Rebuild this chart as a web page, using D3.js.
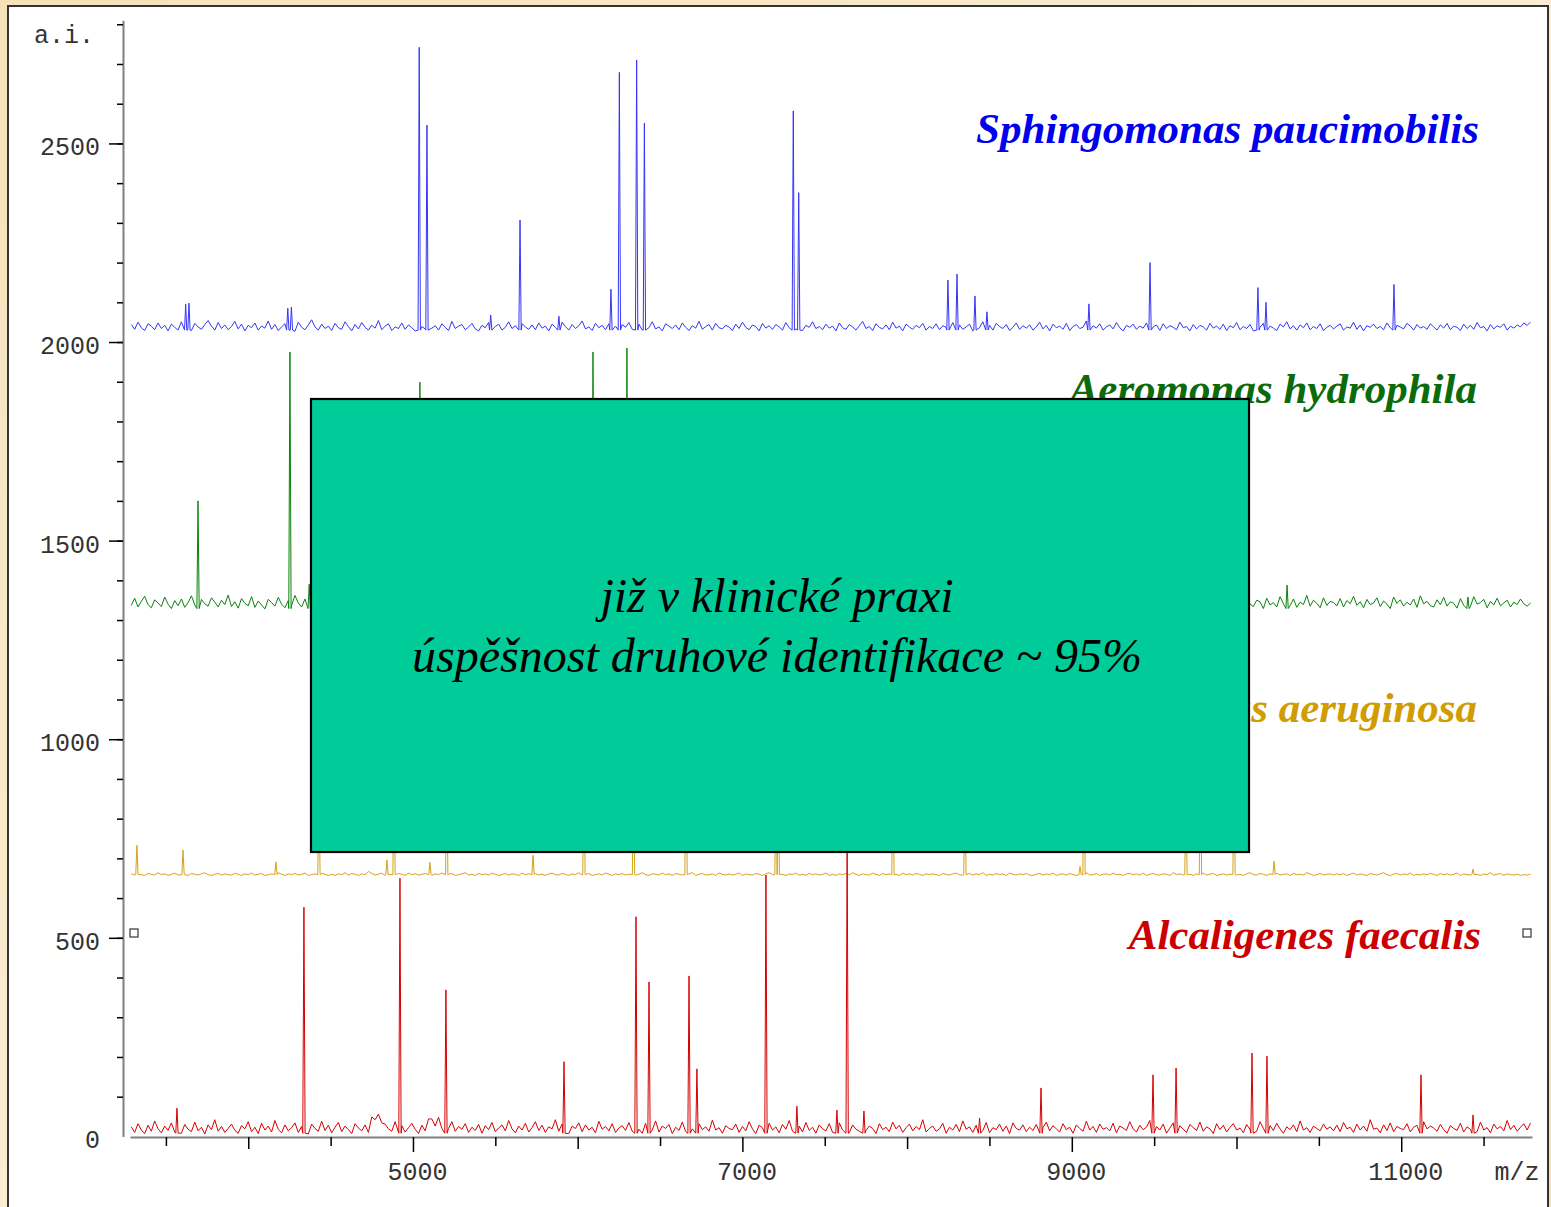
<!DOCTYPE html>
<html><head><meta charset="utf-8">
<script src="https://cdn.jsdelivr.net/npm/d3@7"></script>
<style>
html,body{margin:0;padding:0;background:#F6E6C3;}
svg{display:block;}
</style></head><body>
<svg id="chart" width="1551" height="1207"></svg>
<script>
// ---------------- DATA ----------------
const species = ["Sphingomonas paucimobilis","Aeromonas hydrophila","Pseudomonas aeruginosa","Alcaligenes faecalis"];
const baselines = [2026, 1325, 655, 4];
const mzStart = 3290, mzEnd = 11785;
const yTickLabels = [0, 500, 1000, 1500, 2000, 2500];
const xTickLabels = [5000, 7000, 9000, 11000];

// baseline noise (intensity above baseline), sampled evenly along m/z
const blueNoise = [
18,6,24,10,3,20,14,5,22,8,16,2,19,11,4,25,9,15,3,21,12,6,18,28,14,4,23,8,17,5,
13,26,7,19,2,16,10,22,4,14,9,27,6,18,3,12,20,8,15,1,24,11,5,17,30,12,4,19,8,14,
3,21,10,6,25,13,2,18,7,23,11,4,16,9,28,5,14,20,3,12,8,22,6,17,10,2,19,13,7,24,
9,15,4,20,11,3,26,8,14,18,5,12,21,7,2,16,10,23,6,13,19,4,11,25,8,15,3,20,12,6,
17,5,22,9,14,2,19,11,6,24,13,4,18,8,15,27,7,12,3,21,10,16,5,20,9,14,2,18,11,23,
6,13,19,4,16,10,25,7,12,2,20,14,8,17,5,22,11,3,15,9,26,6,13,18,4,21,10,7,16,12,
3,19,8,24,11,5,17,13,2,21,9,15,6,18,12,4,23,10,14,7,20,3,16,11,25,8,13,5,19,9,
14,2,22,10,6,18,12,4,15,26,8,13,3,20,11,7,17,5,24,9,14,2,19,12,6,16,10,21,4,13,
8,20,5,15,11,3,23,9,17,6,12,19,2,14,10,25,7,16,4,21,13,8,18,3,11,22,6,15,9,17,
4,12,24,7,16,2,19,10,14,6,21,3,13,18,8,11,27,5,15,9,20,4,12,17,7,23,10,2,16,11,
19,6,14,9,22,4,12,17,3,20,8,15,11,5,24,10,13,2,18,7,16,12,4,21,9,14,6,19,3,15,
10,23,5,13,8,18,2,16,11,21,6,14,9,3,19,12,25,7,15,4,17,10,22,5,13,8,20,3,11,16,
7,14,20,4,12,9,24,6,17,2,15,11,19,8,13,5,22,10,3,16,12,7,21,14,4,18,9,13,6,20,
12,4,17,9,21,5,14,11,3,19,8,16,6,23,10,13,2,18,7,15,11,20,4,14,9,17,12,22,16,24];
const greenNoise = [
12,30,8,22,35,14,6,26,18,9,33,15,4,24,11,28,7,19,36,13,5,27,16,10,31,20,8,25,14,38,
9,21,5,29,17,11,34,7,23,13,3,27,19,10,32,15,6,24,12,37,18,8,28,14,4,22,33,11,26,16,
7,31,20,9,25,13,40,17,6,23,11,29,15,3,27,19,10,34,14,8,26,18,5,30,12,21,9,35,16,24,
11,19,6,28,14,32,8,22,17,4,26,13,36,10,20,7,29,15,24,9,33,12,18,5,27,16,38,11,21,14,
25,8,30,13,19,4,27,16,35,10,22,7,31,14,18,3,26,12,34,9,20,15,6,28,17,11,32,8,23,13,
5,29,16,22,10,37,12,19,7,25,14,30,9,21,4,27,17,33,11,24,6,18,28,13,36,10,20,15,8,26,
14,32,9,20,27,6,23,15,11,34,18,7,29,12,25,3,21,16,38,10,26,13,19,5,31,14,22,8,28,17,
10,24,35,12,18,6,30,14,21,8,27,16,4,33,11,23,19,7,28,13,36,9,20,15,25,6,32,12,17,29,
8,22,14,31,5,26,17,11,37,13,20,9,28,15,24,6,33,12,18,10,29,16,4,27,21,13,35,8,19,25,
16,7,30,12,23,18,5,34,14,27,9,21,11,32,17,6,25,13,39,10,22,15,28,8,19,30,12,24,7,26,
13,35,10,19,28,8,24,15,6,31,17,22,12,36,9,26,14,20,5,29,18,11,33,7,23,16,27,10,21,14,
6,27,18,12,33,15,9,25,21,4,30,13,19,8,34,16,23,11,28,7,20,14,37,10,25,17,6,31,12,22,
19,11,29,8,24,16,35,12,21,6,27,14,18,31,9,23,15,4,33,17,26,10,20,13,28,7,36,16,22,11,
8,26,14,32,10,21,17,5,29,12,24,9,34,15,19,27,6,22,13,30,11,18,25,8,20,14,28,16,10,18];
const goldNoise = [
6,3,8,4,2,7,5,3,9,4,6,2,5,8,3,6,4,2,7,5,3,6,9,4,2,5,7,3,6,4,
3,7,5,2,6,4,8,3,5,7,2,4,6,3,9,5,2,6,4,7,3,5,8,2,4,6,3,7,5,2,
5,2,6,4,9,3,7,5,2,6,4,12,7,3,5,8,2,6,4,3,7,5,2,8,4,6,3,5,7,4,
2,6,4,8,3,5,7,2,4,6,9,3,5,2,7,4,6,3,8,5,2,4,7,3,6,5,2,8,4,6,
4,7,3,5,2,6,8,4,3,7,5,2,6,4,9,3,5,7,2,4,6,3,8,5,2,6,4,7,3,5,
7,3,5,9,4,2,6,5,3,8,4,6,2,7,5,3,4,6,9,2,5,7,3,4,6,2,8,5,3,6,
3,5,8,2,6,4,3,7,5,2,6,9,4,3,7,5,2,6,4,8,3,5,2,7,4,6,3,5,8,2,
5,2,6,4,7,3,9,5,2,6,4,3,8,5,2,7,4,6,3,5,2,8,4,6,3,7,5,2,6,4,
6,4,2,7,5,3,6,8,4,2,5,7,3,6,4,9,2,5,3,7,4,6,2,8,5,3,6,4,7,3,
2,5,7,3,6,4,8,2,5,6,3,7,4,2,6,5,9,3,4,7,2,5,6,3,8,4,5,2,6,7,
4,6,3,8,2,5,7,4,3,6,5,2,9,4,6,3,7,5,2,6,4,8,3,5,7,2,4,6,3,5,
7,3,5,2,6,9,4,3,7,5,2,6,4,8,3,5,6,2,7,4,5,3,9,6,2,4,7,3,5,6,
3,6,4,7,2,5,8,3,6,4,2,7,5,3,6,9,4,2,5,7,3,6,4,8,2,5,3,6,4,7,
5,2,7,4,6,3,5,8,2,6,4,3,7,5,2,6,4,9,3,5,7,2,6,4,3,5,2,4,3,5];
const redNoise = [
20,6,28,12,3,24,9,35,15,5,22,11,30,7,18,4,26,14,8,32,10,19,2,25,13,38,9,21,6,16,
27,11,4,23,15,33,8,19,3,29,12,22,7,36,14,5,25,10,18,30,6,21,13,2,27,16,9,34,11,24,
5,19,31,8,22,13,3,28,17,10,25,6,45,38,52,30,27,15,9,33,11,23,7,18,29,14,3,24,10,40,
40,22,44,16,24,16,33,9,21,14,28,6,19,11,26,4,23,13,31,8,17,25,10,36,15,5,22,12,29,7,
18,33,11,24,6,20,15,38,9,27,13,3,22,16,30,8,25,12,19,5,34,14,21,10,28,6,17,23,11,31,
9,25,14,4,29,18,12,35,7,22,16,26,3,19,11,32,8,24,15,6,28,13,20,9,37,12,18,4,23,16,
13,27,6,21,10,33,15,3,24,18,8,29,12,20,5,26,14,36,9,17,22,7,31,11,19,4,25,15,10,28,
6,20,30,12,17,5,25,14,9,34,11,22,16,3,28,13,19,8,32,15,24,6,18,27,10,21,13,38,7,16,
22,9,15,29,4,19,12,26,8,35,14,20,6,24,17,11,31,5,18,13,27,9,22,3,30,16,12,25,8,19,
11,26,5,18,32,10,23,15,7,28,13,19,4,25,16,9,34,12,21,6,27,14,18,10,29,5,22,17,11,33,
15,7,24,13,19,36,8,21,12,27,4,17,30,10,23,14,6,26,18,11,32,9,20,15,3,28,13,24,7,19,
28,12,17,5,26,14,21,9,33,16,7,23,11,29,15,4,20,13,25,8,35,12,18,6,22,16,10,27,14,20,
10,24,8,31,15,19,6,27,12,22,9,38,14,17,5,25,11,30,8,21,16,13,28,7,19,24,10,33,15,22,
17,9,26,13,4,23,16,11,29,7,20,14,25,8,32,12,18,5,27,15,21,10,36,13,24,9,19,28,12,30];

// peaks: [m/z, intensity]
const bluePeaks = [[3620,2095],[3640,2098],[4240,2085],[4262,2088],[5038,2742],[5085,2546],[5472,2068],
 [5650,2307],[5886,2065],[6202,2133],[6253,2679],[6358,2710],[6405,2551],[7309,2582],[7342,2376],
 [8248,2156],[8303,2171],[8412,2116],[8485,2076],[9104,2096],[9475,2200],[10130,2137],[10179,2100],[10956,2145]];
const greenPeaks = [[3695,1600],[4253,1975],[4370,1390],[5042,1899],[5400,1500],[6093,1975],[6299,1985],
 [7000,1550],[7600,1480],[8900,1450],[10307,1388],[11405,1358]];
const goldPeaks = [[3324,733],[3604,721],[4168,691],[4429,900],[4842,696],[4885,950],[5103,690],[5205,1000],
 [5729,708],[6038,1050],[6339,980],[6658,1100],[7204,900],[7218,880],[7914,1000],[8351,950],[9050,680],
 [9074,1020],[9693,900],[9781,1000],[9985,950],[10228,693],[11436,673]];
const redPeaks = [[3567,71],[4338,577],[4921,650],[5200,369],[5917,188],[6354,553],[6433,389],[6676,404],
 [6724,170],[7143,658],[7331,76],[7574,66],[7636,760],[7738,64],[8440,46],[8813,122],[9493,155],[9633,172],
 [10094,210],[10185,202],[11120,155],[11436,54]];

const noises = [blueNoise, greenNoise, goldNoise, redNoise];
const peaks = [bluePeaks, greenPeaks, goldPeaks, redPeaks];
const lineColors = ["#3535F5","#0A820A","#D6A218","#D40000"];
const labelColors = ["#0000EE","#0B6B0B","#D09C00","#CC0000"];

// ---------------- CHART ----------------
const W = 1551, H = 1207;
const svg = d3.select("#chart");
const defs = svg.append("defs");
const g1 = defs.append("linearGradient").attr("id","bg").attr("x1","0").attr("y1","0").attr("x2","1").attr("y2","1");
g1.append("stop").attr("offset","0").attr("stop-color","#F5E2BA");
g1.append("stop").attr("offset","0.5").attr("stop-color","#FAEDD2");
g1.append("stop").attr("offset","1").attr("stop-color","#F4E0B6");
svg.append("rect").attr("width",W).attr("height",H).attr("fill","url(#bg)");
svg.append("rect").attr("x",8).attr("y",6).attr("width",1540).attr("height",1230)
  .attr("fill","#fff").attr("stroke","#333").attr("stroke-width",2);

const x = d3.scaleLinear().domain([3282, 11794]).range([130, 1532]);
const y = d3.scaleLinear().domain([0, 2810]).range([1136.4, 20.3]);

function buildSeries(base, noise, pk){
  const step = (mzEnd - mzStart) / (noise.length - 1);
  const pts = [];
  noise.forEach((n,i) => {
    const mz = mzStart + i*step;
    if (!pk.some(p => Math.abs(p[0]-mz) < 10)) pts.push([mz, base + n]);
  });
  pk.forEach(p => {
    pts.push([p[0]-7, base + 4]);
    pts.push([p[0], p[1]]);
    pts.push([p[0]+7, base + 4]);
  });
  pts.sort((a,b) => a[0]-b[0]);
  return pts;
}

const line = d3.line().x(d => x(d[0])).y(d => y(d[1]));
species.forEach((s,i) => {
  svg.append("path").datum(buildSeries(baselines[i], noises[i], peaks[i]))
    .attr("d", line).attr("fill","none").attr("stroke", lineColors[i])
    .attr("stroke-width",1).attr("stroke-linejoin","round");
});

// axes
const monoFont = "'Liberation Mono','Courier New',monospace";
function styleAxis(g){
  g.select(".domain").attr("stroke","#808080").attr("stroke-width",2);
  g.selectAll(".tick line").attr("stroke","#000").attr("stroke-width",1.5);
  g.selectAll("text").attr("font-family",monoFont).attr("font-size",25).attr("fill","#333");
}
const yMinor = svg.append("g").attr("transform","translate(123,0)")
  .call(d3.axisLeft(y).tickValues(d3.range(100,2801,100)).tickSize(6).tickSizeOuter(0).tickFormat(""));
styleAxis(yMinor);
const yMajor = svg.append("g").attr("transform","translate(123,0)")
  .call(d3.axisLeft(y).tickValues(yTickLabels).tickSize(14).tickSizeOuter(0).tickPadding(9).tickFormat(d3.format("d")));
styleAxis(yMajor);
yMajor.select(".domain").remove();
yMajor.selectAll(".tick").filter(d => d === 0).select("line").remove();
yMajor.selectAll("text").attr("dy","0.46em");

const xMinor = svg.append("g").attr("transform","translate(0,1137)")
  .call(d3.axisBottom(x).tickValues(d3.range(3500,11600,500).filter(v => v % 1000 !== 0)).tickSize(9).tickSizeOuter(0).tickFormat(""));
styleAxis(xMinor);
const xMid = svg.append("g").attr("transform","translate(0,1137)")
  .call(d3.axisBottom(x).tickValues([4000,6000,8000,10000]).tickSize(12).tickSizeOuter(0).tickFormat(""));
styleAxis(xMid);
xMid.select(".domain").remove();
const xMajor = svg.append("g").attr("transform","translate(0,1137)")
  .call(d3.axisBottom(x).tickValues(xTickLabels).tickSize(15).tickSizeOuter(0).tickPadding(10).tickFormat(d3.format("d")));
styleAxis(xMajor);
xMajor.select(".domain").remove();
xMajor.selectAll("text").attr("dx",4);

svg.append("text").attr("x",1517).attr("y",1179.5).attr("text-anchor","middle")
  .attr("font-family",monoFont).attr("font-size",25).attr("fill","#333").text("m/z");
svg.append("text").attr("x",34).attr("y",43)
  .attr("font-family",monoFont).attr("font-size",25).attr("fill","#333").text("a.i.");

// species labels
const labelPos = [[1479,143],[1477,403],[1477,722],[1481,949]];
species.forEach((s,i) => {
  svg.append("text").attr("x",labelPos[i][0]).attr("y",labelPos[i][1]).attr("text-anchor","end")
    .attr("font-family","'Liberation Serif','Times New Roman',serif").attr("font-style","italic")
    .attr("font-weight","bold").attr("font-size",43).attr("fill",labelColors[i]).text(s);
});

// small markers
svg.append("rect").attr("x",130).attr("y",929).attr("width",8).attr("height",8)
  .attr("fill","#fff").attr("stroke","#444").attr("stroke-width",1.3);
svg.append("rect").attr("x",1523).attr("y",929).attr("width",8).attr("height",8)
  .attr("fill","#fff").attr("stroke","#444").attr("stroke-width",1.3);

// overlay box
svg.append("rect").attr("x",311).attr("y",399).attr("width",938).attr("height",453)
  .attr("fill","#00CC99").attr("stroke","#000").attr("stroke-width",2.2);
const boxLines = ["již v klinické praxi","úspěšnost druhové identifikace ~ 95%"];
boxLines.forEach((t,i) => {
  svg.append("text").attr("x",777).attr("y",612 + i*60).attr("text-anchor","middle")
    .attr("font-family","'Liberation Serif','Times New Roman',serif").attr("font-style","italic")
    .attr("font-size",48).attr("fill","#000").text(t);
});
</script>
</body></html>
